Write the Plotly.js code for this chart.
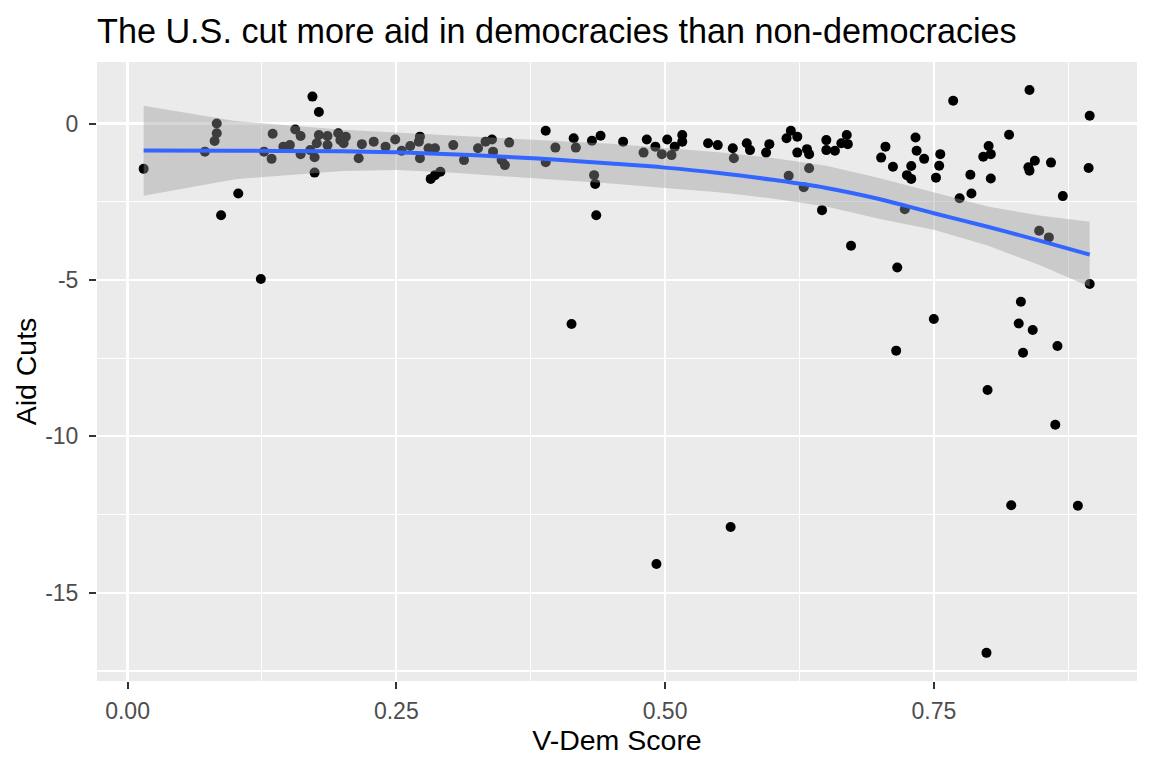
<!DOCTYPE html>
<html>
<head>
<meta charset="utf-8">
<script src="https://cdn.plot.ly/plotly-3.0.1.min.js"></script>
<style>
	html, body { margin: 0; padding: 0; background: #ffffff; }
	#chart { width: 1152px; height: 768px; }
</style>
</head>
<body>
<div id="chart"></div>
<script>
// country points: V-Dem score vs aid cuts
var vdem = [
	0.015, 0.172, 0.178, 0.083, 0.083, 0.081, 0.072, 0.103, 0.087, 0.135,
	0.127, 0.134, 0.156, 0.161, 0.145, 0.151, 0.161, 0.170, 0.174, 0.174,
	0.178, 0.176, 0.186, 0.186, 0.196, 0.198, 0.203, 0.201, 0.218, 0.215,
	0.229, 0.240, 0.249, 0.124, 0.255, 0.263, 0.272, 0.271, 0.272, 0.280,
	0.286, 0.282, 0.286, 0.291, 0.303, 0.313, 0.326, 0.333, 0.339, 0.340,
	0.348, 0.351, 0.355, 0.389, 0.398, 0.389, 0.415, 0.417, 0.432, 0.440,
	0.434, 0.435, 0.436, 0.461, 0.483, 0.480, 0.491, 0.497, 0.502, 0.506,
	0.509, 0.516, 0.413, 0.492, 0.561, 0.516, 0.540, 0.549, 0.563, 0.564,
	0.576, 0.579, 0.597, 0.594, 0.613, 0.617, 0.623, 0.623, 0.632, 0.634,
	0.634, 0.615, 0.629, 0.646, 0.650, 0.650, 0.658, 0.664, 0.669, 0.670,
	0.673, 0.705, 0.701, 0.712, 0.733, 0.734, 0.729, 0.725, 0.729, 0.723,
	0.768, 0.839, 0.895, 0.741, 0.756, 0.755, 0.752, 0.784, 0.785, 0.774,
	0.801, 0.803, 0.796, 0.803, 0.820, 0.838, 0.839, 0.844, 0.859, 0.870,
	0.894, 0.848, 0.857, 0.895, 0.716, 0.831, 0.750, 0.829, 0.842, 0.865,
	0.833, 0.715, 0.800, 0.863, 0.822, 0.884, 0.799
];
var aidCuts = [
	-1.45, 0.86, 0.37, 0.00, -0.31, -0.56, -0.90, -2.24, -2.93, -0.33,
	-0.90, -1.13, -0.19, -0.40, -0.74, -0.69, -0.98, -0.85, -1.08, -1.57,
	-0.37, -0.63, -0.40, -0.69, -0.31, -0.53, -0.42, -0.63, -0.66, -1.11,
	-0.58, -0.74, -0.51, -4.97, -0.87, -0.72, -0.42, -0.58, -1.11, -0.79,
	-0.79, -1.77, -1.65, -1.54, -0.69, -1.17, -0.79, -0.58, -0.51, -0.90,
	-1.17, -1.33, -0.61, -0.23, -0.77, -1.24, -0.47, -0.77, -0.55, -0.39,
	-1.65, -1.93, -2.93, -0.58, -0.51, -0.93, -0.74, -0.98, -0.51, -1.01,
	-0.74, -0.37, -6.41, -14.08, -12.90, -0.58, -0.63, -0.69, -0.79, -1.11,
	-0.63, -0.85, -0.66, -0.93, -0.47, -0.23, -0.42, -0.93, -0.82, -0.98,
	-1.43, -1.67, -2.04, -2.77, -0.53, -0.85, -0.87, -0.63, -0.37, -0.66,
	-3.91, -0.74, -1.09, -1.38, -0.45, -0.87, -1.36, -1.65, -1.77, -2.74,
	0.73, 1.07, 0.25, -1.13, -0.98, -1.35, -1.73, -1.64, -2.24, -2.39,
	-0.72, -0.98, -1.06, -1.76, -0.36, -1.40, -1.51, -1.19, -1.25, -2.32,
	-1.42, -3.43, -3.64, -5.13, -4.60, -5.70, -6.25, -6.39, -6.60, -7.11,
	-7.33, -7.26, -8.52, -9.63, -12.20, -12.22, -16.92
];

// loess fit and its confidence band
var fitX     = [0.015, 0.1, 0.2, 0.25, 0.3, 0.35, 0.4, 0.45, 0.5, 0.55, 0.6, 0.65, 0.7, 0.75, 0.8, 0.85, 0.895];
var fitY     = [-0.86, -0.87, -0.89, -0.92, -0.98, -1.06, -1.16, -1.28, -1.41, -1.58, -1.80, -2.06, -2.42, -2.87, -3.30, -3.76, -4.19];
var fitUpper = [0.57, 0.08, -0.20, -0.29, -0.38, -0.46, -0.55, -0.65, -0.78, -0.92, -1.10, -1.35, -1.75, -2.20, -2.65, -2.95, -3.14];
var fitLower = [-2.31, -1.78, -1.52, -1.49, -1.57, -1.68, -1.80, -1.92, -2.06, -2.20, -2.40, -2.65, -3.05, -3.40, -3.90, -4.55, -5.22];

var xTickVals = [0, 0.25, 0.5, 0.75];
var xTickText = ['0.00', '0.25', '0.50', '0.75'];
var yTickVals = [0, -5, -10, -15];
var yTickText = ['0', '-5', '-10', '-15'];

var titleText = 'The U.S. cut more aid in democracies than non-democracies';
var xTitle = 'V-Dem Score';
var yTitle = 'Aid Cuts';

var points = {
	x : vdem,
	y : aidCuts,
	type : 'scatter',
	mode : 'markers',
	marker : { color : '#000000', size : 10 },
	hoverinfo : 'x+y'
};

var bandLow = {
	x : fitX,
	y : fitLower,
	type : 'scatter',
	mode : 'lines',
	line : { width : 0, color : 'rgba(0,0,0,0)' },
	hoverinfo : 'skip'
};

var bandHigh = {
	x : fitX,
	y : fitUpper,
	type : 'scatter',
	mode : 'lines',
	fill : 'tonexty',
	fillcolor : 'rgba(153,153,153,0.4)',
	line : { width : 0, color : 'rgba(0,0,0,0)' },
	hoverinfo : 'skip'
};

var fitLine = {
	x : fitX,
	y : fitY,
	type : 'scatter',
	mode : 'lines',
	line : { color : '#3366FF', width : 4, shape : 'spline' }
};

var layout = {
	width : 1152,
	height : 768,
	showlegend : false,
	paper_bgcolor : '#ffffff',
	plot_bgcolor : '#EBEBEB',
	font : { family : 'Liberation Sans, Arial, sans-serif', color : '#000000' },
	margin : { l : 97, r : 15, t : 62, b : 87 },
	title : {
		text : titleText,
		font : { size : 34.2, color : '#000000' },
		xref : 'paper',
		x : 0,
		xanchor : 'left',
		yref : 'container',
		y : 1 - 31 / 768,
		yanchor : 'middle'
	},
	xaxis : {
		range : [-0.0284, 0.939],
		tickmode : 'array',
		tickvals : xTickVals,
		ticktext : xTickText,
		ticks : 'outside',
		ticklen : 7,
		tickwidth : 2,
		tickcolor : '#333333',
		ticklabelstandoff : 2,
		tickfont : { size : 23, color : '#4D4D4D' },
		showgrid : true,
		gridcolor : '#ffffff',
		gridwidth : 2.2,
		minor : { tickmode : 'linear', tick0 : 0.125, dtick : 0.25, showgrid : true, gridcolor : '#ffffff', gridwidth : 1.1, ticks : '' },
		zeroline : false,
		showline : false,
		automargin : false,
		title : { text : xTitle, font : { size : 28.5, color : '#000000' }, standoff : 0 }
	},
	yaxis : {
		range : [-17.82, 1.966],
		tickmode : 'array',
		tickvals : yTickVals,
		ticktext : yTickText,
		ticks : 'outside',
		ticklen : 7,
		tickwidth : 2,
		tickcolor : '#333333',
		ticklabelstandoff : 6,
		tickfont : { size : 23, color : '#4D4D4D' },
		showgrid : true,
		gridcolor : '#ffffff',
		gridwidth : 2.2,
		minor : { tickmode : 'linear', tick0 : -2.5, dtick : 5, showgrid : true, gridcolor : '#ffffff', gridwidth : 1.1, ticks : '' },
		zeroline : false,
		showline : false,
		automargin : false,
		title : { text : yTitle, font : { size : 28.5, color : '#000000' }, standoff : 0 }
	}
};

Plotly.newPlot('chart', [points, bandLow, bandHigh, fitLine], layout, { displayModeBar : false, staticPlot : true });
</script>
</body>
</html>
